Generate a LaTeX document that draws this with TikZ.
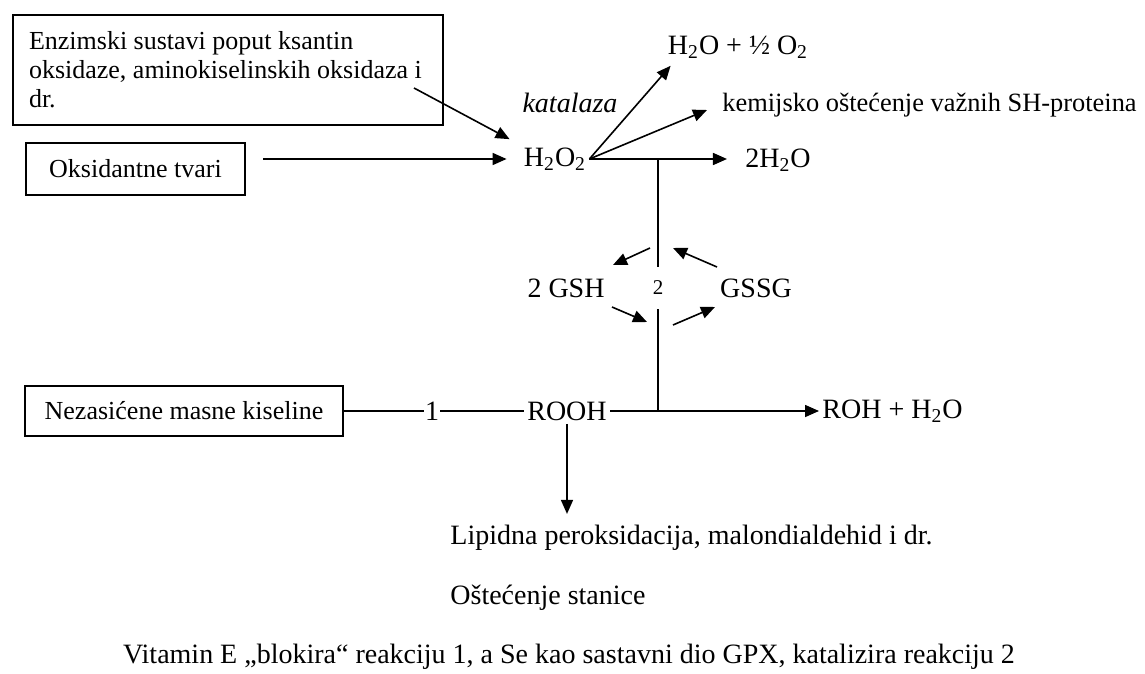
\documentclass[tikz,border=0pt]{standalone}
\usepackage{fontspec}
\setmainfont{Liberation Serif}
\usepackage{tikz}
\usetikzlibrary{arrows.meta, positioning, calc}

\begin{document}
\begin{tikzpicture}[x=0.5pt, y=-0.5pt, font=\fontsize{13}{14.5}\selectfont]
    % Define styles
    \tikzstyle{block} = [rectangle, draw, line width=1pt, inner sep=0pt]
    \tikzstyle{label} = [inner sep=1.5pt, font=\fontsize{14}{16}\selectfont]
    \tikzstyle{arrow} = [line width=0.8pt, -{Triangle[length=7pt, width=6pt]}]
    \tikzstyle{line} = [line width=0.8pt]

    \useasboundingbox (0,0) rectangle (1145,674);

    % Create blocks
    \node[block, minimum width=215pt, minimum height=55pt, text width=199pt, align=flush left] (enzim) at (228,70)
        {Enzimski sustavi poput ksantin\\oksidaze, aminokiselinskih oksidaza i\\dr.};
    \node[block, minimum width=109.5pt, minimum height=26pt] (oks) at (135.5,169) {Oksidantne tvari};
    \node[block, minimum width=159pt, minimum height=25pt] (nez) at (184,411) {Nezasićene masne kiseline};

    \node[label] (h2o2) at (555,159) {H\textsubscript{2}O\textsubscript{2}};
    \node[label, font=\fontsize{14}{16}\selectfont\itshape] (kat) at (570,103) {katalaza};
    \node[label] (o2) at (738,47) {H\textsubscript{2}O + ½ O\textsubscript{2}};
    \node[label, anchor=west, font=\fontsize{13.2}{15}\selectfont] (kem) at (719,105) {kemijsko oštećenje važnih SH-proteina};
    \node[label] (water) at (778,160) {2H\textsubscript{2}O};

    \node[inner sep=0pt, minimum height=21pt, font=\fontsize{10.5}{12}\selectfont] (two) at (658,288) {2};
    \node[label] (gsh) at (566,288) {2 GSH};
    \node[label] (gssg) at (756,288) {GSSG};

    \node[label, inner sep=0.5pt] (one) at (432,411) {1};
    \node[label] (rooh) at (567,411) {ROOH};
    \node[label, anchor=west] (roh) at (819,411) {ROH + H\textsubscript{2}O};

    \node[label, anchor=west] (lipid) at (447,538) {Lipidna peroksidacija, malondialdehid i dr.};
    \node[label, anchor=west] (stanice) at (447,598) {Oštećenje stanice};
    \node[label] (note) at (569,657) {Vitamin E „blokira“ reakciju 1, a Se kao sastavni dio GPX, katalizira reakciju 2};

    % Draw arrows
    \draw[arrow] ([xshift=8.5pt]oks.east |- h2o2.west) -- ([xshift=-7pt]h2o2.west);
    \draw[arrow] ([shift={(-15pt,-9pt)}]enzim.east) -- ([shift={(-5.5pt,2.5pt)}]h2o2.north west);
    \draw[arrow] (h2o2.east) -- ([shift={(3pt,-2pt)}]o2.south west);
    \draw[arrow] (h2o2.east) -- ([shift={(-6pt,-2.5pt)}]kem.west);
    \draw[arrow] (h2o2.east) -- ([xshift=-7.5pt]h2o2.east -| water.west);

    \draw[line] (two |- h2o2.east) -- (two);
    \draw[line] (two) -- (two |- rooh.east);
    \draw[arrow] ($(two)+(-8,-40)$) -- ($(two)+(-45,-23)$);
    \draw[arrow] ($(two)+(59,-21)$) -- ($(two)+(15,-40)$);
    \draw[arrow] ($(two)+(-46,19)$) -- ($(two)+(-11,34)$);
    \draw[arrow] ($(two)+(15,37)$) -- ($(two)+(57,19)$);

    \draw[line] (nez) -- (one) -- (rooh);
    \draw[arrow] (rooh) -- (roh);
    \draw[arrow] (rooh.south) -- ([yshift=4pt]rooh.south |- lipid.north);
\end{tikzpicture}
\end{document}
